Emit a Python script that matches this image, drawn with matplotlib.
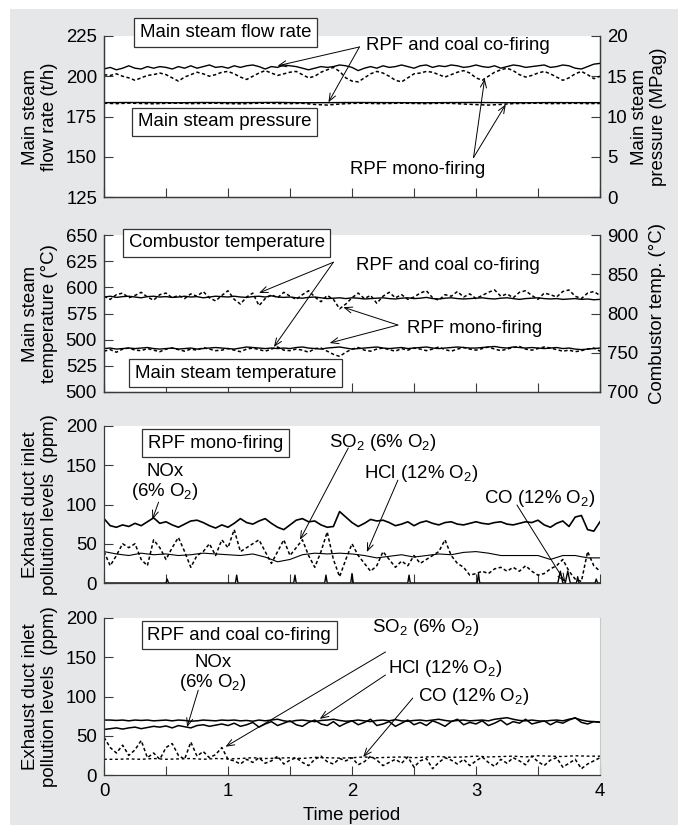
import numpy as np
import matplotlib
matplotlib.use('Agg')
import matplotlib.pyplot as plt
from matplotlib.patches import Rectangle

plt.rcParams['font.family'] = ['Liberation Sans', 'DejaVu Sans']
plt.rcParams['mathtext.fontset'] = 'custom'
plt.rcParams['mathtext.rm'] = 'Liberation Sans'
plt.rcParams['mathtext.it'] = 'Liberation Sans:italic'
plt.rcParams['mathtext.bf'] = 'Liberation Sans:bold'

# ---------------- data ----------------
x_tick_vals = [0, 0.5, 1, 1.5, 2, 2.5, 3, 3.5, 4]
x_tick_labels = ['0', '', '1', '', '2', '', '3', '', '4']

# Panel 1: main steam flow rate (t/h) and pressure (MPag)
flow_co = [204.5, 205.5, 204, 205, 206.5, 205, 204.5, 206, 205, 206,
           205.5, 204.5, 206, 205, 206.5, 205, 206, 207, 205.5, 206,
           205, 206.5, 205.5, 206.5, 207, 206, 204.5, 206, 205.5, 207,
           206.5, 206, 205, 204, 205, 206, 205.5, 206, 207, 206.5,
           205.5, 203.5, 205, 206, 205, 206.5, 205.5, 206, 207, 206,
           205, 206.5, 207, 205.5, 206.5, 206, 207, 206.5, 205.5, 206,
           207, 206, 205.5, 206.5, 205, 206, 207, 206.5, 205.5, 206,
           206.5, 207, 205.5, 206, 207, 206.5, 205, 204.5, 206, 207.5, 208]
flow_mono = [201, 200.5, 201.5, 200, 199, 197.5, 199, 200.5, 201, 202,
             201, 199, 197, 199.5, 201, 202.5, 201.5, 200, 201, 202.5,
             203, 201.5, 199.5, 198, 200, 202, 203.5, 202, 200.5, 201.5,
             202.5, 203, 201, 199, 200, 202.5, 204, 205.5, 203, 199,
             197, 196.5, 199, 201.5, 203, 202, 200, 197.5, 196.5, 199,
             201.5, 202, 203, 202.5, 201, 199.5, 201, 202.5, 203.5, 202,
             199, 197.5, 200, 202.5, 204, 205, 203.5, 201, 199.5, 200.5,
             202, 203, 201.5, 199.5, 197.5, 199, 201.5, 203, 201, 198.5, 200]
press_co = [11.72, 11.74, 11.73, 11.71, 11.74, 11.72, 11.73, 11.75, 11.71, 11.72,
            11.74, 11.73, 11.72, 11.71, 11.73, 11.74, 11.72, 11.71, 11.73, 11.72, 11.72]
press_mono = [11.65, 11.6, 11.66, 11.62, 11.58, 11.64, 11.66, 11.6, 11.63, 11.65,
              11.6, 11.58, 11.63, 11.66, 11.62, 11.6, 11.64, 11.5, 11.42, 11.55,
              11.63, 11.65, 11.6, 11.62, 11.66, 11.62, 11.6, 11.64, 11.63, 11.55,
              11.48, 11.42, 11.5, 11.6, 11.63, 11.65, 11.6, 11.62, 11.64, 11.6, 11.62]

# Panel 2: combustor temperature (right, degC) and main steam temperature (left, degC)
comb_co = [821, 822, 820.5, 821.5, 822, 821, 820, 821.5, 822, 821,
           821.5, 820.5, 821, 822, 821, 821.5, 820, 821, 822, 821.5,
           821, 822, 821, 820.5, 821.5, 822, 821, 822.5, 821, 820.5,
           821, 820, 819.5, 820.5, 821, 820, 819, 819.5, 820, 819,
           820, 819.5, 818.5, 819, 819.5, 820, 819, 818.5, 819.5, 820,
           819, 819.5, 820.5, 819, 818.5, 819.5, 820, 819, 818.5, 819,
           819.5, 820, 819, 818.5, 819.5, 820, 819, 818, 819, 819.5,
           820, 819, 818.5, 819, 818, 818.5, 819, 818, 818.5, 817.5, 818]
comb_mono = [822, 818, 824, 826, 820, 823, 827, 821, 817, 824,
             826, 820, 823, 819, 825, 822, 828, 820, 816, 823,
             829, 818, 812, 821, 826, 810, 819, 824, 820, 827,
             822, 818, 824, 829, 821, 815, 823, 818, 806, 812,
             820, 826, 819, 823, 813, 822, 827, 820, 824, 818,
             821, 826, 829, 820, 817, 824, 822, 828, 821, 825,
             819, 823, 827, 830, 822, 825, 820, 827, 829, 823,
             818, 826, 824, 821, 828, 830, 822, 819, 826, 828, 823]
steam_co = [541.5, 542, 541, 541.5, 542, 541.5, 542, 542.5, 541.5, 541,
            541.5, 542, 541, 541.5, 542, 541, 541.5, 542, 542.5, 542,
            541.5, 541, 542, 543, 542.5, 542, 541.5, 542, 541.5, 542,
            541.5, 542.5, 543, 542, 541.5, 541, 542, 542.5, 543, 542,
            541, 541.5, 542, 542.5, 543, 542, 541.5, 542, 542.5, 541.5,
            542, 542.5, 543, 542, 541.5, 542, 542.5, 543, 542.5, 542,
            542, 542.5, 543, 543.5, 542.5, 542, 543, 542.5, 542, 542.5,
            542, 541.5, 542, 542.5, 541.5, 542, 541, 540.5, 541, 541.5, 542]
steam_mono = [539, 540.5, 538, 541, 542, 540, 539.5, 541.5, 540, 538.5,
              541, 542, 540.5, 539, 541, 540, 542.5, 541, 539.5, 540,
              541.5, 540, 538.5, 541, 542, 540.5, 539, 541, 543, 540,
              539.5, 541, 540, 538, 541.5, 542, 539, 536, 534, 538,
              541, 542.5, 540, 539, 541, 542, 540.5, 539, 541.5, 540,
              542, 541, 539.5, 541, 543, 540.5, 539, 541, 542.5, 541,
              540, 541.5, 543, 541, 539.5, 541, 542.5, 543.5, 541, 540,
              541.5, 543, 542, 540.5, 539, 540, 538.5, 539.5, 541, 542, 539]

# Panel 3: RPF mono-firing pollutants (ppm)
nox_mono = [82, 73, 71, 74, 72, 76, 73, 78, 83, 76,
            78, 74, 71, 75, 79, 80, 77, 73, 70, 74,
            71, 76, 82, 77, 75, 79, 82, 76, 71, 68,
            74, 80, 82, 78, 79, 74, 71, 72, 91, 84,
            77, 72, 76, 81, 79, 80, 77, 73, 75, 78,
            73, 77, 79, 76, 74, 77, 78, 75, 74, 76,
            78, 76, 75, 77, 78, 75, 74, 76, 78, 77,
            80, 74, 71, 76, 79, 72, 84, 86, 68, 66, 78]
so2_mono = [40, 22, 35, 50, 45, 50, 30, 22, 55, 45,
            30, 45, 58, 40, 20, 35, 40, 50, 35, 55,
            45, 68, 40, 45, 50, 55, 40, 25, 40, 55,
            35, 45, 55, 35, 20, 40, 65, 30, 8, 30,
            50, 35, 25, 15, 22, 40, 30, 20, 28, 22,
            35, 25, 30, 35, 40, 55, 35, 25, 20, 10,
            12, 15, 12, 18, 20, 15, 20, 15, 22, 15,
            10, 12, 18, 22, 30, 15, 5, 2, 40, 22, 15]
hcl_mono = [40, 37, 35, 38, 36, 37, 35, 36, 38, 37,
            36, 35, 37, 33, 27, 30, 36, 38, 37, 38,
            37, 35, 32, 34, 36, 33, 35, 37, 36, 39,
            40, 38, 35, 35, 35, 35, 30, 35, 35, 32, 32]
co_mono_t = [0, 0.50, 0.51, 0.52, 1.06, 1.07, 1.08, 1.53, 1.54, 1.55,
             1.78, 1.79, 1.80, 1.99, 2.00, 2.01, 2.45, 2.46, 2.47, 3.01,
             3.02, 3.03, 3.66, 3.68, 3.70, 3.72, 3.74, 3.76, 3.81, 3.82,
             3.83, 3.96, 3.97, 3.98, 4.0]
co_mono_v = [0, 0, 5, 0, 0, 10, 0, 0, 10, 0,
             0, 10, 0, 0, 12, 0, 0, 10, 0, 0,
             12, 0, 0, 15, 0, 0, 15, 0, 0, 8,
             0, 0, 5, 0, 0]

# Panel 4: RPF and coal co-firing pollutants (ppm)
hcl_co = [70, 70, 69.5, 70, 69, 70, 69.5, 70, 69, 69.5,
          70, 69, 70, 69.5, 68.5, 69, 70, 69.5, 69, 70,
          69.5, 70, 69, 69.5, 68.5, 70, 69, 70, 71, 69,
          68, 69.5, 70, 69, 68, 69.5, 70, 71, 69.5, 68.5,
          69, 70, 69, 68, 69.5, 70, 69, 70.5, 69, 68.5,
          69.5, 70, 69, 70, 71, 69.5, 68.5, 69.5, 70, 69,
          69.5, 70, 69, 71, 72, 73, 71, 69.5, 69, 70,
          69, 68.5, 69.5, 70, 69, 71, 72.5, 70, 68.5, 68, 67.5]
nox_co = [58, 59, 60, 58.5, 60, 61, 59, 60.5, 62, 61,
          62.5, 60, 63, 61.5, 60, 63, 64, 62, 63.5, 65,
          63, 66, 62, 64, 67, 61, 65, 68, 63, 66,
          69, 64, 62, 67, 70, 65, 63, 68, 62, 66,
          69, 64, 67, 71, 63, 65, 68, 62, 66, 70,
          64, 67, 63, 69, 66, 62, 68, 71, 64, 67,
          65, 69, 63, 66, 70, 64, 68, 66, 71, 65,
          67, 69, 64, 68, 66, 70, 73, 67, 65, 68, 67]
so2_co = [48, 35, 28, 38, 25, 32, 44, 22, 28, 20,
          35, 40, 25, 20, 42, 24, 30, 22, 26, 35,
          20, 18, 14, 20, 16, 22, 15, 18, 24, 14,
          19, 22, 16, 12, 20, 24, 17, 14, 21, 18,
          22, 13, 17, 24, 19, 12, 16, 20, 15, 23,
          10, 18, 21, 8, 16, 22, 19, 14, 20, 12,
          18, 23, 16, 11, 20, 15, 22, 18, 13, 24,
          17, 12, 19, 22, 10, 15, 20, 8, 14, 18, 22]
co_co = [20, 20, 20.5, 20, 21, 20, 20.5, 21, 20, 21,
         20.5, 21, 22, 21, 21.5, 22, 21, 22.5, 22, 21.5,
         22, 23, 22, 22.5, 23, 22, 23, 23.5, 22.5, 23,
         24, 23, 23.5, 24, 23, 24.5, 24, 23.5, 24.5, 24, 24]

p2_left_ticks = [500, 525, 550, 575, 600, 625, 650]
p2_left_labels = ['500', '525', '500', '575', '600', '625', '650']  # as printed in the source
p2_right_ticks = [700, 750, 800, 850, 900]

# ---------------- style ----------------
FS = 13.4
SP = '#3a3a3a'
DOT = (0, (2.2, 1.6))
W, H = 682, 827
LS = 1.15


def t(v):
    return np.linspace(0, 4, len(v))


def style(ax, right=False):
    ax.set_facecolor('white')
    ax.spines['top'].set_visible(False)
    for s in ['left', 'bottom', 'right']:
        ax.spines[s].set_color(SP)
        ax.spines[s].set_linewidth(0.9)
    ax.spines['right'].set_visible(right)
    ax.tick_params(direction='in', length=6.5, width=0.8, labelsize=FS,
                   color=SP, pad=5)
    ax.set_xlim(0, 4)
    ax.set_xticks(x_tick_vals)
    ax.set_xticklabels([])


def arrows(ax, tail, heads):
    for h in heads:
        ax.annotate('', xy=h, xytext=tail,
                    arrowprops=dict(arrowstyle='->,head_length=0.55,head_width=0.22',
                                    lw=0.7, color='black', shrinkA=0, shrinkB=0))


def box(ax, x, y, s):
    ax.text(x, y, s, ha='center', va='center', fontsize=FS, zorder=10,
            bbox=dict(boxstyle='square,pad=0.3', fc='white', ec='#333333', lw=0.9))


def lab(ax, x, y, s):
    ax.text(x, y, s, ha='center', va='center', fontsize=FS, linespacing=1.05, zorder=10)


fig = plt.figure(figsize=(W / 100, H / 100), dpi=100)
fig.patches.append(Rectangle((10 / W, 2 / H), 668 / W, 816 / H, transform=fig.transFigure,
                             facecolor='#e6e7e8', edgecolor='none', zorder=-10))

L = 104 / W
AW = 496 / W


def axrect(top, bot):
    return [L, 1 - bot / H, AW, (bot - top) / H]


def twin_pair(top, bot):
    a = fig.add_axes(axrect(top, bot))
    b = a.twinx()
    for x in (a, b):
        style(x, right=True)
    a.set_zorder(2)
    a.patch.set_visible(False)
    b.set_zorder(1)
    b.patch.set_visible(True)
    b.set_facecolor('white')
    return a, b


# ----- Panel 1 -----
ax1, ax1r = twin_pair(36, 197)
ax1.plot(t(flow_co), flow_co, color='black', lw=1.0)
ax1.plot(t(flow_mono), flow_mono, color='black', lw=1.1, ls=DOT)
ax1r.plot(t(press_co), press_co, color='black', lw=1.0)
ax1r.plot(t(press_mono), press_mono, color='black', lw=1.1, ls=DOT)
ax1.set_ylim(125, 225)
ax1.set_yticks([125, 150, 175, 200, 225])
ax1r.set_ylim(0, 20)
ax1r.set_yticks([0, 5, 10, 15, 20])
ax1.set_ylabel('Main steam\nflow rate (t/h)', fontsize=FS, linespacing=LS)
ax1.yaxis.set_label_coords(-0.093, 0.5)
ax1r.set_ylabel('Main steam\npressure (MPag)', fontsize=FS, linespacing=LS)
ax1r.yaxis.set_label_coords(1.062, 0.5)
box(ax1, 0.98, 227.2, 'Main steam flow rate')
box(ax1, 0.97, 171.6, 'Main steam pressure')
lab(ax1, 2.85, 219.4, 'RPF and coal co-firing')
arrows(ax1, (2.06, 218.2), [(1.40, 206.5), (1.81, 183.8)])
lab(ax1, 2.53, 141.8, 'RPF mono-firing')
arrows(ax1, (2.98, 149.5), [(3.07, 198.5), (3.24, 182.5)])

# ----- Panel 2 -----
ax2, ax2r = twin_pair(235, 392)
ax2r.plot(t(comb_co), comb_co, color='black', lw=1.0)
ax2r.plot(t(comb_mono), comb_mono, color='black', lw=1.1, ls=DOT)
ax2.plot(t(steam_co), steam_co, color='black', lw=1.0)
ax2.plot(t(steam_mono), steam_mono, color='black', lw=1.1, ls=DOT)
ax2.set_ylim(500, 650)
ax2.set_yticks(p2_left_ticks)
ax2.set_yticklabels(p2_left_labels)
ax2r.set_ylim(700, 900)
ax2r.set_yticks(p2_right_ticks)
ax2.set_ylabel('Main steam\ntemperature (\u00b0C)', fontsize=FS, linespacing=LS)
ax2.yaxis.set_label_coords(-0.093, 0.5)
ax2r.set_ylabel('Combustor temp. (\u00b0C)', fontsize=FS)
ax2r.yaxis.set_label_coords(1.099, 0.5)
box(ax2, 0.99, 642.4, 'Combustor temperature')
box(ax2, 1.06, 518, 'Main steam temperature')
lab(ax2, 2.77, 621.3, 'RPF and coal co-firing')
arrows(ax2, (1.85, 624), [(1.25, 594.6), (1.37, 543)])
lab(ax2, 2.99, 561, 'RPF mono-firing')
arrows(ax2, (2.37, 564), [(1.93, 581), (1.82, 546.8)])

# ----- Panel 3 -----
ax3 = fig.add_axes(axrect(426, 583))
style(ax3)
ax3.plot(t(nox_mono), nox_mono, color='black', lw=1.2)
ax3.plot(t(so2_mono), so2_mono, color='black', lw=1.1, ls=DOT)
ax3.plot(t(hcl_mono), hcl_mono, color='black', lw=0.8)
ax3.plot(co_mono_t, co_mono_v, color='black', lw=1.0)
ax3.set_ylim(0, 200)
ax3.set_yticks([0, 50, 100, 150, 200])
ax3.set_ylabel('Exhaust duct inlet\npollution levels  (ppm)', fontsize=FS, linespacing=LS)
ax3.yaxis.set_label_coords(-0.093, 0.5)
box(ax3, 0.90, 178.3, 'RPF mono-firing')
lab(ax3, 0.49, 128, 'NOx\n(6% O$_2$)')
arrows(ax3, (0.44, 103), [(0.39, 81)])
lab(ax3, 2.25, 179.6, 'SO$_2$ (6% O$_2$)')
arrows(ax3, (1.97, 172), [(1.58, 55)])
lab(ax3, 2.56, 140, 'HCl (12% O$_2$)')
arrows(ax3, (2.37, 131), [(2.12, 39.5)])
lab(ax3, 3.51, 108, 'CO (12% O$_2$)')
arrows(ax3, (3.33, 99.4), [(3.72, 1)])

# ----- Panel 4 -----
ax4 = fig.add_axes(axrect(618, 775))
style(ax4, right=True)
ax4.spines['right'].set_color('#c8c8c8')
ax4.spines['right'].set_linewidth(0.8)
ax4.tick_params(axis='y', right=False)
ax4.plot(t(hcl_co), hcl_co, color='black', lw=1.1)
ax4.plot(t(nox_co), nox_co, color='black', lw=1.1)
ax4.plot(t(so2_co), so2_co, color='black', lw=1.1, ls=DOT)
ax4.plot(t(co_co), co_co, color='black', lw=1.0, ls=(0, (2.0, 2.0)))
ax4.set_ylim(0, 200)
ax4.set_yticks([0, 50, 100, 150, 200])
ax4.set_xticklabels(x_tick_labels)
ax4.tick_params(axis='x', pad=6)
ax4.set_xlabel('Time period', fontsize=FS, labelpad=5)
ax4.set_ylabel('Exhaust duct inlet\npollution levels  (ppm)', fontsize=FS, linespacing=LS)
ax4.yaxis.set_label_coords(-0.093, 0.5)
box(ax4, 1.09, 178.3, 'RPF and coal co-firing')
lab(ax4, 0.88, 129.3, 'NOx\n(6% O$_2$)')
arrows(ax4, (0.76, 108), [(0.67, 61)])
lab(ax4, 2.60, 188.5, 'SO$_2$ (6% O$_2$)')
arrows(ax4, (2.27, 156.7), [(0.98, 36)])
lab(ax4, 2.75, 136.3, 'HCl (12% O$_2$)')
arrows(ax4, (2.27, 127.4), [(1.74, 71.5)])
lab(ax4, 2.98, 99.4, 'CO (12% O$_2$)')
arrows(ax4, (2.49, 98), [(2.09, 23)])

fig.savefig('out.png', dpi=100)
